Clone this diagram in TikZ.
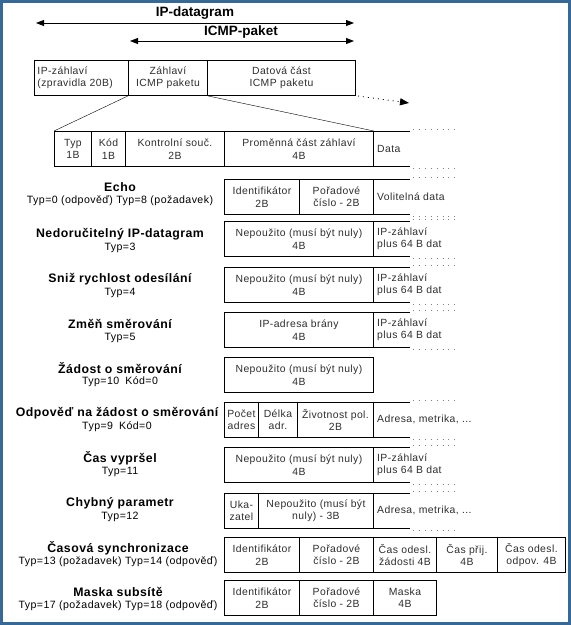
\documentclass[tikz,border=0pt]{standalone}
\usepackage{fontspec}
\setmainfont[LetterSpace=4]{Liberation Sans}
\newfontfamily\plainsans{Liberation Sans}
\usetikzlibrary{arrows.meta}
\definecolor{frameblue}{RGB}{54,104,152}
\definecolor{txt}{RGB}{45,45,45}
\begin{document}
\begin{tikzpicture}[x=1pt,y=-1pt,
  fld/.style={draw=black,line width=0.9pt,minimum height=35pt,inner sep=0pt,align=center,
    font=\fontsize{10.4}{12.5}\selectfont,text=txt,anchor=north west},
  dtxt/.style={inner sep=0pt,align=left,anchor=west,font=\fontsize{10.4}{12.5}\selectfont,text=txt},
  ttl/.style={inner sep=0pt,align=center,font=\bfseries\fontsize{12.3}{14}\selectfont},
  sub/.style={inner sep=0pt,align=center,font=\fontsize{10.6}{13}\selectfont},
  big/.style={inner sep=0pt,font=\plainsans\bfseries\fontsize{13.5}{15}\selectfont},
  dim/.style={line width=0.9pt,{Triangle[length=8pt,width=6pt]}-{Triangle[length=8pt,width=6pt]}},
  solid ext/.style={line width=0.9pt},
  dotext/.style={line width=0.9pt,dash pattern=on 0.9pt off 5pt,draw=gray}
]
\useasboundingbox (0,0) rectangle (571,625);
\draw[frameblue,line width=3pt] (1.5,1.5) rectangle (569.5,623.5);

% top dimension arrows
\coordinate (ipL) at (36,23); \coordinate (ipR) at (354,23);
\draw[dim] (ipL) -- (ipR);
\node[big] (iplab) at (195,13) {IP-datagram};
\coordinate (icL) at (130,41); \coordinate (icR) at (354,41);
\draw[dim] (icL) -- (icR);
\node[big] (iclab) at (241,32) {ICMP-paket};

% top packet box
\node[fld,minimum width=94pt,align=left,text width=90pt] (iph) at (34,60) {\hspace*{1pt}IP-záhlaví\\\hspace*{1pt}(zpravidla 20B)};
\node[fld,minimum width=79pt] (icmph) at (128,60) {Záhlaví\\ICMP paketu};
\node[fld,minimum width=148pt] (icmpd) at (207,60) {Datová část\\ICMP paketu};
\coordinate (darrS) at (358,96); \coordinate (darrE) at (409,103);
\draw[line width=0.8pt,dash pattern=on 1pt off 4pt,-{Triangle[length=9pt,width=7pt]}] (darrS) -- (darrE);

% header row
\node[fld,minimum width=37pt] (typ) at (54,131) {Typ\\1B};
\node[fld,minimum width=34pt] (kod) at (91,131) {Kód\\1B};
\node[fld,minimum width=99pt] (ks) at (125,131) {Kontrolní souč.\\2B};
\node[fld,minimum width=149pt] (pcz) at (224,131) {Proměnná část záhlaví\\4B};
\node[dtxt] (hdata) at (377,148.5) {Data};
\draw (icmph.south west) -- (typ.north west);
\draw (icmph.south east) -- (pcz.north east);

% macro for data extension
\newcommand{\dext}[1]{%
  \draw[solid ext] (373,#1) -- (410,#1);
  \draw[solid ext] (373,#1+35) -- (410,#1+35);
  \draw[dotext] (413,#1-2) -- (455,#1-2);
  \draw[dotext] (413,#1+35+2) -- (455,#1+35+2);
}
\dext{131}

% Echo
\node[ttl] (t1) at (120,187) {Echo};
\node[sub] (s1) at (120,201) {Typ=0 (odpověď) Typ=8 (požadavek)};
\node[fld,minimum width=75pt] (e1) at (224,179) {Identifikátor\\2B};
\node[fld,minimum width=74pt] (e2) at (299,179) {Pořadové\\číslo - 2B};
\node[dtxt] (e3) at (377,196.5) {Volitelná data};
\dext{179}

% Nedorucitelny
\node[ttl] (t2) at (120,234) {Nedoručitelný IP-datagram};
\node[sub] (s2) at (120,248) {Typ=3};
\node[fld,minimum width=149pt] (n1) at (224,221) {Nepoužito (musí být nuly)\\4B};
\node[dtxt] (n2) at (377,238.5) {IP-záhlaví\\plus 64 B dat};
\dext{221}

% Sniz
\node[ttl] (t3) at (120,279) {Sniž rychlost odesílání};
\node[sub] (s3) at (120,293) {Typ=4};
\node[fld,minimum width=149pt] (r1) at (224,267) {Nepoužito (musí být nuly)\\4B};
\node[dtxt] (r2) at (377,284.5) {IP-záhlaví\\plus 64 B dat};
\dext{267}

% Zmen
\node[ttl] (t4) at (120,324) {Změň směrování};
\node[sub] (s4) at (120,338) {Typ=5};
\node[fld,minimum width=149pt] (z1) at (224,312) {IP-adresa brány\\4B};
\node[dtxt] (z2) at (377,329.5) {IP-záhlaví\\plus 64 B dat};
\dext{312}

% Zadost
\node[ttl] (t5) at (120,368) {Žádost o směrování};
\node[sub] (s5) at (120,382) {Typ=10\hspace{6pt}Kód=0};
\node[fld,minimum width=149pt] (a1) at (224,357) {Nepoužito (musí být nuly)\\4B};

% Odpoved
\node[ttl] (t6) at (117,413) {Odpověď na žádost o směrování};
\node[sub] (s6) at (117,427) {Typ=9\hspace{6pt}Kód=0};
\node[fld,minimum width=34pt] (o1) at (224,402) {Počet\\adres};
\node[fld,minimum width=39pt] (o2) at (258,402) {Délka\\adr.};
\node[fld,minimum width=76pt] (o3) at (297,402) {Životnost pol.\\2B};
\node[dtxt] (o4) at (377,419.5) {Adresa, metrika, ...};
\dext{402}

% Cas vyprsel
\node[ttl] (t7) at (120,458) {Čas vypršel};
\node[sub] (s7) at (120,472) {Typ=11};
\node[fld,minimum width=149pt] (c1) at (224,447) {Nepoužito (musí být nuly)\\4B};
\node[dtxt] (c2) at (377,464.5) {IP-záhlaví\\plus 64 B dat};
\dext{447}

% Chybny parametr
\node[ttl] (t8) at (120,503) {Chybný parametr};
\node[sub] (s8) at (120,517) {Typ=12};
\node[fld,minimum width=34pt] (p1) at (224,493) {Uka-\\zatel};
\node[fld,minimum width=115pt] (p2) at (258,493) {Nepoužito (musí být\\nuly) - 3B};
\node[dtxt] (p3) at (377,510.5) {Adresa, metrika, ...};
\dext{493}

% Casova synchronizace
\node[ttl] (t9) at (118,548) {Časová synchronizace};
\node[sub] (s9) at (118,562) {Typ=13 (požadavek) Typ=14 (odpověď)};
\node[fld,minimum width=75pt] (q1) at (224,537) {Identifikátor\\2B};
\node[fld,minimum width=74pt] (q2) at (299,537) {Pořadové\\číslo - 2B};
\node[fld,minimum width=63pt] (q3) at (373,537) {Čas odesl.\\žádosti 4B};
\node[fld,minimum width=61pt] (q4) at (436,537) {Čas přij.\\4B};
\node[fld,minimum width=68pt] (q5) at (497,537) {Čas odesl.\\odpov. 4B};

% Maska
\node[ttl] (t10) at (118,592) {Maska subsítě};
\node[sub] (s10) at (118,606) {Typ=17 (požadavek) Typ=18 (odpověď)};
\node[fld,minimum width=75pt] (m1) at (224,580) {Identifikátor\\2B};
\node[fld,minimum width=74pt] (m2) at (299,580) {Pořadové\\číslo - 2B};
\node[fld,minimum width=63pt] (m3) at (373,580) {Maska\\4B};
\end{tikzpicture}
\end{document}
